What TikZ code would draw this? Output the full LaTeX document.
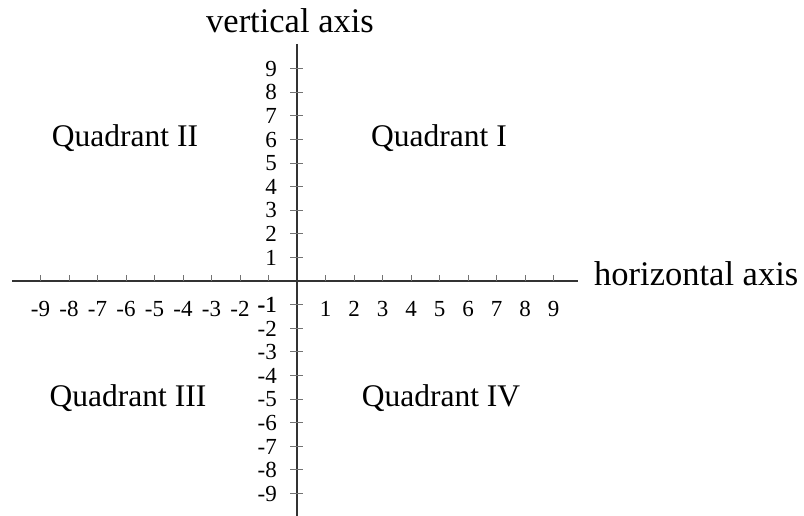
\documentclass[tikz,border=0pt]{standalone}
\usepackage{fontspec}
\setmainfont{Liberation Serif}
\begin{document}
\begin{tikzpicture}[x=1pt,y=-1pt,
  axisline/.style={line width=1.2pt, draw=black!80},
  tickline/.style={line width=0.8pt, draw=black!55},
  numlabel/.style={font=\fontsize{23}{23}\selectfont, inner sep=0pt},
  quadlabel/.style={font=\fontsize{31.5}{31.5}\selectfont, inner sep=0pt, anchor=base},
  axislabel/.style={font=\fontsize{34.5}{34.5}\selectfont, inner sep=0pt}]
\useasboundingbox (0,0) rectangle (804,516);
\coordinate (O) at (297,281);
\coordinate (xl) at (12,281);
\coordinate (xr) at (578,281);
\coordinate (yt) at (297,44);
\coordinate (yb) at (297,516);
\draw[axisline] (xl) -- (xr);
\draw[axisline] (yt) -- (yb);
\foreach \k in {-9,-8,-7,-6,-5,-4,-3,-2,-1,1,2,3,4,5,6,7,8,9} {
  \coordinate (xt\k) at ({297+28.5*\k},281);
  \draw[tickline] (xt\k) -- ++(0,-6);
  \coordinate (yt\k) at (290,{281-23.6*\k});
  \draw[tickline] (yt\k) -- ++(13,0);
}
\foreach \k in {-9,-8,-7,-6,-5,-4,-3,-2,1,2,3,4,5,6,7,8,9} {
  \node[numlabel, anchor=base] (xn\k) at ({297+28.5*\k},316) {\k};
}
\foreach \k in {-9,-8,-7,-6,-5,-4,-3,-2,-1,1,2,3,4,5,6,7,8,9} {
  \node[numlabel, anchor=base east] (yn\k) at (277,{281-23.6*\k+7.8}) {\k};
}
\node[numlabel, anchor=base east] (xn-1) at (277,{281+23.6+7.8}) {-1};
\node[axislabel, anchor=base] (vlab) at (290,33) {vertical axis};
\node[axislabel, anchor=base west] (hlab) at (594,285) {horizontal axis};
\node[quadlabel] (q1) at (439,147) {Quadrant I};
\node[quadlabel] (q2) at (125,147) {Quadrant II};
\node[quadlabel] (q3) at (128,406.5) {Quadrant III};
\node[quadlabel] (q4) at (441,406.5) {Quadrant IV};
\end{tikzpicture}
\end{document}
